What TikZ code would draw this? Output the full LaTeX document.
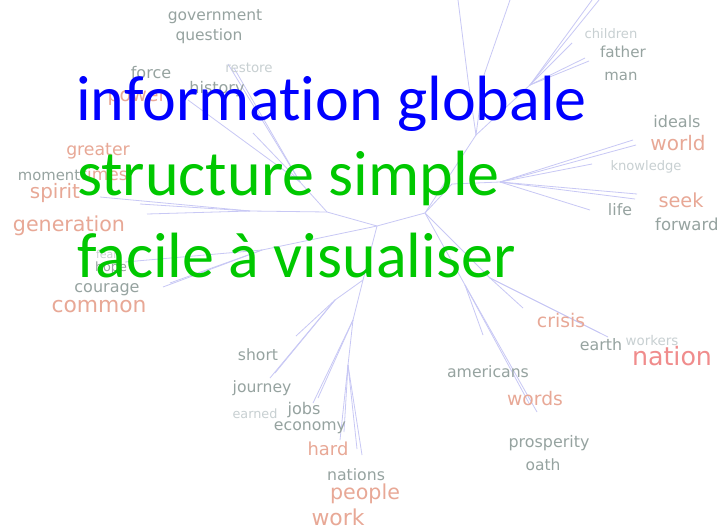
\documentclass[tikz,border=0pt]{standalone}
\usepackage{fontspec}
\setmainfont{Carlito}[Ligatures={NoCommon}]
\newfontfamily\wf{DejaVu Sans}
\definecolor{wgray}{RGB}{150,163,160}
\definecolor{wlight}{RGB}{200,208,210}
\definecolor{wsal}{RGB}{232,168,150}
\definecolor{wred}{RGB}{240,140,140}
\definecolor{branch}{RGB}{200,200,245}
\definecolor{ovblue}{RGB}{0,0,255}
\definecolor{ovgreen}{RGB}{0,200,0}
\begin{document}
\begin{tikzpicture}[x=1pt,y=-1pt,
  w/.style n args={2}{font={\wf\fontsize{#1}{#1}\selectfont},text=#2,inner sep=0pt,anchor=base},
  br/.style={draw=branch,line width=0.8pt,line join=round},
  ov/.style={font={\fontsize{64}{64}\selectfont},inner sep=0pt,anchor=base west}]
\useasboundingbox (0,0) rectangle (722,530);
\fill[white] (0,0) rectangle (722,530);
% tree junctions
\coordinate (A) at (425,213);
\coordinate (B) at (377,226);
\coordinate (C) at (476,135);
\coordinate (D) at (530,85);
\coordinate (E) at (500,182);
\coordinate (G) at (490,278);
\coordinate (H) at (465,285);
\coordinate (I) at (353,320);
\coordinate (K) at (363,280);
\coordinate (M) at (348,365);
\coordinate (N) at (327,212);
\coordinate (P) at (300,182);
\coordinate (Q) at (250,211);
\coordinate (R) at (262,250);
\coordinate (S) at (335,300);
% branches
\draw[br] (B) -- (A) -- (C);
\draw[br] (C) -- (468,80) -- (458,0);
\draw[br] (C) -- (484,75) -- (510,0);
\draw[br] (C) -- (D);
\draw[br] (D) -- (592,0);
\draw[br] (D) -- (599,0);
\draw[br] (D) -- (572,43);
\draw[br] (D) -- (585,58);
\draw[br] (D) -- (589,61);
\draw[br] (A) -- (452,184) -- (E);
\draw[br] (E) -- (633,140);
\draw[br] (E) -- (636,145);
\draw[br] (E) -- (592,164);
\draw[br] (E) -- (590,210);
\draw[br] (E) -- (637,194);
\draw[br] (E) -- (635,199);
\draw[br] (A) -- (G);
\draw[br] (G) -- (523,308);
\draw[br] (G) -- (608,337);
\draw[br] (G) -- (600,333);
\draw[br] (A) -- (H);
\draw[br] (H) -- (483,335);
\draw[br] (H) -- (537,412);
\draw[br] (H) -- (530,405);
\draw[br] (B) -- (K) -- (I);
\draw[br] (K) -- (S);
\draw[br] (S) -- (296,336);
\draw[br] (S) -- (270,378);
\draw[br] (S) -- (275,373);
\draw[br] (I) -- (313,403);
\draw[br] (I) -- (318,398);
\draw[br] (I) -- (M);
\draw[br] (M) -- (340,440);
\draw[br] (M) -- (344,432);
\draw[br] (M) -- (362,455);
\draw[br] (M) -- (357,449);
\draw[br] (B) -- (N) -- (P);
\draw[br] (P) -- (228,64);
\draw[br] (P) -- (234,68);
\draw[br] (P) -- (188,100);
\draw[br] (P) -- (253,133);
\draw[br] (N) -- (Q) -- (147,214);
\draw[br] (Q) -- (100,197);
\draw[br] (Q) -- (140,204);
\draw[br] (B) -- (R);
\draw[br] (R) -- (163,287);
\draw[br] (R) -- (170,283);
\draw[br] (R) -- (125,262);
% words
\node[w={15.5}{wgray}] (government) at (215,20) {government};
\node[w={15.5}{wgray}] (question) at (209,40) {question};
\node[w={16}{wgray}] (force) at (151,78) {force};
\node[w={13.4}{wlight}] (restore) at (249,72) {restore};
\node[w={16}{wgray}] (history) at (217,93) {history};
\node[w={19}{wsal}] (power) at (137,101) {power};
\node[w={17.3}{wsal}] (greater) at (98,155) {greater};
\node[w={14.8}{wgray}] (moment) at (49,180) {moment};
\node[w={17}{wsal}] (times) at (104,180) {times};
\node[w={19.9}{wsal}] (spirit) at (55,198) {spirit};
\node[w={20.6}{wsal}] (generation) at (69,231) {generation};
\node[w={11}{wlight}] (fear) at (107,258) {fear};
\node[w={12.8}{wgray}] (hope) at (111,271) {hope};
\node[w={16}{wgray}] (courage) at (107,292) {courage};
\node[w={21.8}{wsal}] (common) at (99,312) {common};
\node[w={13.1}{wlight}] (children) at (611,38) {children};
\node[w={15.2}{wgray}] (father) at (623,57) {father};
\node[w={14.9}{wgray}] (man) at (621,80) {man};
\node[w={16}{wgray}] (ideals) at (677,127) {ideals};
\node[w={20}{wsal}] (world) at (678,150) {world};
\node[w={13.1}{wlight}] (knowledge) at (646,170) {knowledge};
\node[w={19.3}{wsal}] (seek) at (681,207) {seek};
\node[w={15.8}{wgray}] (life) at (620,215) {life};
\node[w={16.5}{wgray},anchor=base west] (forward) at (655,230) {forward};
\node[w={18.8}{wsal}] (crisis) at (561,327) {crisis};
\node[w={15.8}{wgray}] (earth) at (601,350) {earth};
\node[w={13.4}{wlight}] (workers) at (652,345) {workers};
\node[w={25.3}{wred}] (nation) at (672,365) {nation};
\node[w={15.7}{wgray}] (americans) at (488,377) {americans};
\node[w={18.7}{wsal}] (words) at (535,405) {words};
\node[w={15.9}{wgray}] (prosperity) at (549,447) {prosperity};
\node[w={15.5}{wgray}] (oath) at (543,470) {oath};
\node[w={15.6}{wgray}] (short) at (258,360) {short};
\node[w={15.6}{wgray}] (journey) at (262,392) {journey};
\node[w={12.8}{wlight}] (earned) at (255,418) {earned};
\node[w={16.1}{wgray}] (jobs) at (304,414) {jobs};
\node[w={15.7}{wgray}] (economy) at (310,430) {economy};
\node[w={17.9}{wsal}] (hard) at (328,455) {hard};
\node[w={15.7}{wgray}] (nations) at (356,480) {nations};
\node[w={20.6}{wsal}] (people) at (365,499) {people};
\node[w={21.9}{wsal}] (work) at (338,525) {work};
% overlay
\node[ov,text=ovblue] (l1) at (76,120) {information globale};
\node[ov,text=ovgreen] (l2) at (77,195) {structure simple};
\node[ov,text=ovgreen] (l3) at (77,277) {facile à visualiser};
\end{tikzpicture}
\end{document}
